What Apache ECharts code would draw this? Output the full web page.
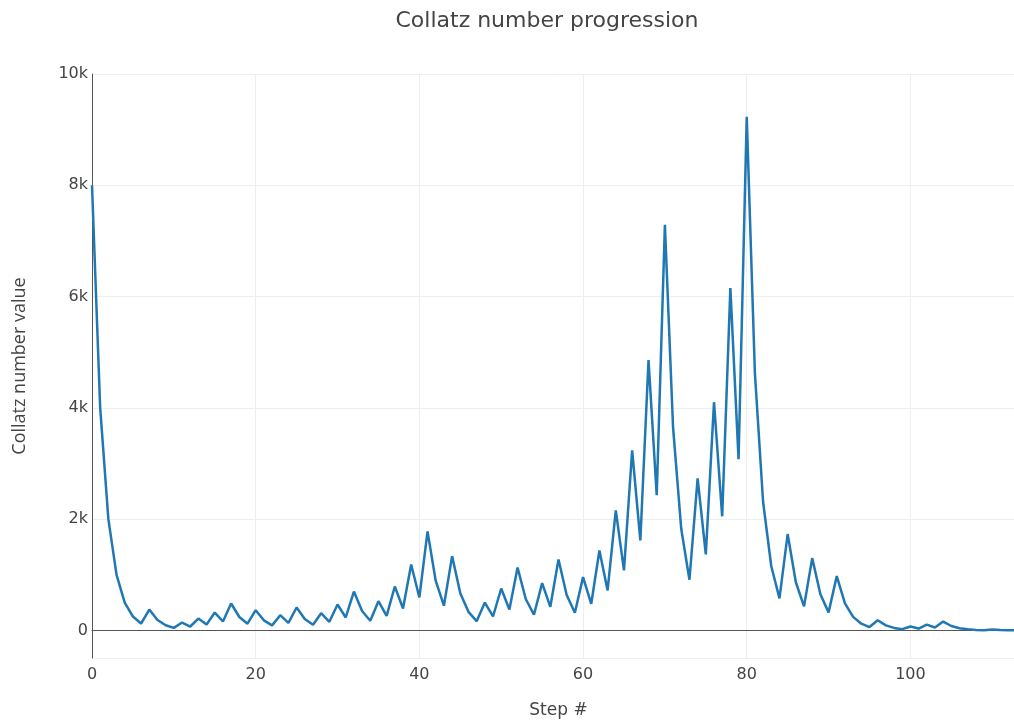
<!DOCTYPE html>
<html>
<head>
<meta charset="utf-8">
<script src="https://cdn.jsdelivr.net/npm/echarts@6/dist/echarts.min.js"></script>
<style>html,body{margin:0;padding:0;background:#fff}#c{width:1014px;height:721px}</style>
</head>
<body>
<div id="c"></div>
<script>
// Collatz sequence values (starting at 8000)
const steps = [];
const values = [8000,4000,2000,1000,500,250,125,376,188,94,47,142,71,214,107,322,161,484,242,121,
364,182,91,274,137,412,206,103,310,155,466,233,700,350,175,526,263,790,395,1186,
593,1780,890,445,1336,668,334,167,502,251,754,377,1132,566,283,850,425,1276,638,319,
958,479,1438,719,2158,1079,3238,1619,4858,2429,7288,3644,1822,911,2734,1367,4102,2051,6154,3077,
9232,4616,2308,1154,577,1732,866,433,1300,650,325,976,488,244,122,61,184,92,46,23,
70,35,106,53,160,80,40,20,10,5,16,8,4,2,1];
for (let i = 0; i < values.length; i++) steps.push(i);
const data = steps.map((s, i) => [s, values[i]]);
const titleText = 'Collatz number progression';
const xTitle = 'Step #';
const yTitle = 'Collatz number value';

const chart = echarts.init(document.getElementById('c'), null, {renderer: 'canvas'});
chart.setOption({
  animation: false,
  backgroundColor: '#fff',
  title: {
    text: titleText, left: 542, top: 5, textAlign: 'center',
    textStyle: {fontFamily: 'DejaVu Sans', fontSize: 22, fontWeight: 'normal', color: '#444'}
  },
  grid: {left: 92, right: -11, top: 74, bottom: 63, containLabel: false, outerBoundsMode: 'none'},
  xAxis: {
    type: 'value', min: 0, max: 114, interval: 20,
    name: xTitle, nameLocation: 'middle', nameGap: 44,
    nameTextStyle: {fontFamily: 'DejaVu Sans', fontSize: 17, color: '#444'},
    axisLine: {show: true, lineStyle: {color: '#555', width: 1}},
    axisTick: {show: false},
    axisLabel: {
      margin: 9, color: '#444', fontFamily: 'DejaVu Sans', fontSize: 16,
      formatter: v => (v % 20 === 0 ? String(v) : '')
    },
    splitLine: {show: true, lineStyle: {color: '#eee', width: 1}}
  },
  yAxis: {
    type: 'value', min: -495, max: 10000, splitNumber: 5,
    name: yTitle, nameLocation: 'middle', nameGap: 63, nameRotate: 90,
    nameTextStyle: {fontFamily: 'Open Sans', fontSize: 18, color: '#444'},
    axisLine: {show: true, lineStyle: {color: '#555', width: 1}},
    axisTick: {show: false},
    axisLabel: {
      margin: 4, color: '#444', fontFamily: 'DejaVu Sans', fontSize: 16,
      formatter: v => (v < 0 ? '' : (v === 0 ? '0' : (v / 1000) + 'k'))
    },
    splitLine: {show: true, lineStyle: {color: '#eee', width: 1}}
  },
  series: [{
    type: 'line', data: data, showSymbol: false, symbol: 'none',
    lineStyle: {color: '#1f77b4', width: 2.5}, itemStyle: {color: '#1f77b4'},
    markLine: {
      silent: true, symbol: 'none', label: {show: false},
      lineStyle: {color: '#555', width: 1, type: 'solid'},
      data: [{yAxis: 0}], z: 1
    },
    z: 3
  }]
});
</script>
</body>
</html>
